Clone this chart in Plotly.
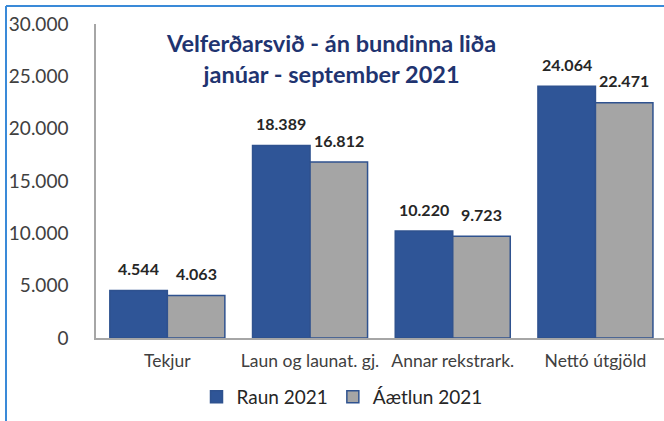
import plotly.graph_objects as go

categories = ["Tekjur", "Laun og launat. gj.", "Annar rekstrark.", "Nettó útgjöld"]
raun_2021 = [4544, 18389, 10220, 24064]
aaetlun_2021 = [4063, 16812, 9723, 22471]
series_names = ["Raun 2021", "Áætlun 2021"]
y_ticks = [0, 5000, 10000, 15000, 20000, 25000, 30000]
title_lines = ["Velferðarsvið - án bundinna liða", "janúar - september 2021"]

W, H = 664, 421
ML, MR, MT, MB = 96, 0, 24, 83
PW, PH = W - ML - MR, H - MT - MB
CAT_PX = 142.7
BAR_PX = CAT_PX * (1 - 0.194) / 2

FONT = "Lato, Calibri, Carlito, Arial, sans-serif"
BLUE = "#2F5597"
GRAY = "#A5A5A5"
EDGE = "#2F528F"

fig = go.Figure()
for name, vals, col in [(series_names[0], raun_2021, BLUE), (series_names[1], aaetlun_2021, GRAY)]:
    fig.add_trace(go.Bar(
        x=categories, y=vals, name=name,
        marker=dict(color=col, line=dict(color=EDGE, width=1.5)),
    ))

# data labels (placed ~22px above bar tops, like the original)
for vals, shift in [(raun_2021, -BAR_PX / 2), (aaetlun_2021, BAR_PX / 2)]:
    for c, v in zip(categories, vals):
        fig.add_annotation(
            x=c, y=v, xref="x", yref="y", xshift=shift, yshift=22,
            text="<b>" + f"{v:,d}".replace(",", ".") + "</b>",
            showarrow=False, xanchor="center", yanchor="middle",
            font=dict(family=FONT, size=16, color="#262626"),
        )

def px_to_paper_x(px):
    return (px - ML) / PW

def px_to_paper_y(py):
    return (H - MB - py) / PH

fig.add_annotation(
    x=px_to_paper_x(331), y=px_to_paper_y(59), xref="paper", yref="paper",
    text="<b>" + title_lines[0] + "</b><br><b>" + title_lines[1] + "</b>",
    showarrow=False, xanchor="center", yanchor="middle",
    font=dict(family=FONT, size=23.5, color="#1F3470"),
)

# blue frame lines (left and top)
fig.add_shape(type="line", xref="paper", yref="paper",
              x0=px_to_paper_x(6), x1=px_to_paper_x(6),
              y0=px_to_paper_y(6), y1=px_to_paper_y(H + 2),
              line=dict(color="#3A8AD8", width=2))
fig.add_shape(type="line", xref="paper", yref="paper",
              x0=px_to_paper_x(6), x1=px_to_paper_x(W + 2),
              y0=px_to_paper_y(6), y1=px_to_paper_y(6),
              line=dict(color="#3A8AD8", width=2))

fig.update_layout(
    template="none",
    width=W, height=H,
    margin=dict(l=ML, r=MR, t=MT, b=MB, pad=0, autoexpand=False),
    paper_bgcolor="white", plot_bgcolor="white",
    separators=",.",
    barmode="group", bargap=0.194, bargroupgap=0,
    font=dict(family=FONT, size=16, color="#404040"),
    showlegend=True,
    legend=dict(orientation="h", xref="container", yref="container",
                x=342 / W, xanchor="center",
                y=(H - 397) / H, yanchor="middle",
                font=dict(family=FONT, size=19, color="#262626"),
                traceorder="normal", bgcolor="rgba(0,0,0,0)"),
    xaxis=dict(range=[-0.5, -0.5 + PW / CAT_PX], showline=True, linecolor="#A6A6A6",
               linewidth=1.5, ticks="", showgrid=False, zeroline=False, automargin=False,
               tickfont=dict(family=FONT, size=17.5, color="#404040"),
               ticklabelstandoff=6),
    yaxis=dict(range=[0, 30000], tickvals=y_ticks, tickformat=",d",
               showline=True, linecolor="#A6A6A6", linewidth=1.5, automargin=False,
               ticks="", showgrid=False, zeroline=False,
               tickfont=dict(family=FONT, size=19, color="#404040"),
               ticklabelstandoff=22),
)

fig.write_html("out.html", config={"displayModeBar": False},
               post_script="document.body.style.margin='0px';")
